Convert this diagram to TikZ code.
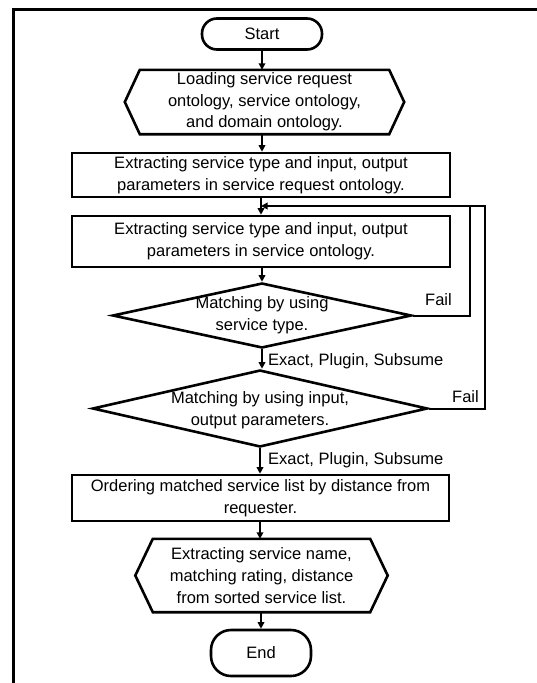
\documentclass[tikz,border=0pt]{standalone}
\usepackage{fontspec}
\setmainfont{Liberation Sans}
\usetikzlibrary{arrows.meta,shapes.geometric}
\begin{document}
\begin{tikzpicture}[x=1pt,y=-1pt,
  txt/.style={font=\fontsize{16.5pt}{21.7pt}\selectfont, inner sep=0pt, align=center},
  shp/.style={draw, line width=2.6pt, line join=miter},
  procbox/.style={shp, txt, rectangle, minimum width=378pt},
  term/.style={shp, txt, rectangle},
  ioframe/.style={txt, rectangle},
  dia/.style={shp, diamond, inner sep=0pt},
  flow/.style={line width=1.8pt, -{Triangle[length=6.5pt,width=6.5pt]}},
  loopline/.style={line width=2pt, line join=miter},
  lbl/.style={font=\fontsize{16.5pt}{21.7pt}\selectfont, inner sep=0pt, anchor=base west}]

\useasboundingbox (0,0) rectangle (537,683);
\draw[line width=3pt, line join=miter] (13,683) -- (13,9.5) -- (537,9.5);

% nodes
\node[term, minimum width=120pt, minimum height=31pt, rounded corners=15pt] (start) at (262,34) {Start};

\node[ioframe, minimum width=249pt, minimum height=64pt] (h1) at (264.5,102)
  {Loading service request\\ontology, service ontology,\\and domain ontology.};
\draw[shp] (h1.north west) -- (h1.north east) -- ([xshift=15pt]h1.east)
  -- (h1.south east) -- (h1.south west) -- ([xshift=-15pt]h1.west) -- cycle;

\node[procbox, minimum height=44pt] (b2) at (261,175)
  {Extracting service type and input, output\\parameters in service request ontology.};
\node[procbox, minimum height=51pt] (b3) at (261,241.5)
  {Extracting service type and input, output\\parameters in service ontology.};

\node[dia, minimum width=299pt, minimum height=65pt] (d1) at (262,315.5) {};
\node[txt] (d1t) at (d1.center) {Matching by using\\service type.};

\node[dia, minimum width=335pt, minimum height=77pt] (d2) at (260,408.5) {};
\node[txt] (d2t) at ([yshift=-2pt]d2.center) {Matching by using input,\\output parameters.};

\node[procbox, minimum width=377pt, minimum height=46pt] (b4) at (260.5,498)
  {Ordering matched service list by distance from\\requester.};

\node[ioframe, minimum width=217pt, minimum height=73pt] (h2) at (261.5,575.5)
  {Extracting service name,\\matching rating, distance\\from sorted service list.};
\draw[shp] (h2.north west) -- (h2.north east) -- ([xshift=17.5pt]h2.east)
  -- (h2.south east) -- (h2.south west) -- ([xshift=-17.5pt]h2.west) -- cycle;

\node[term, minimum width=100pt, minimum height=46pt, rounded corners=20pt] (end) at (261,653) {End};

% connectors
\draw[flow] (start.south) -- (start.south |- h1.north);
\draw[flow] (start.south |- h1.south) -- (start.south |- b2.north);
\draw[flow] (b2.south) -- (b2.south |- b3.north);
\draw[flow] (b3.south -| d1.north) -- (d1.north);
\draw[flow] (d1.south) -- (d1.south |- d2.north);
\draw[flow] (d2.south) -- (d2.south |- b4.north);
\draw[flow] (b4.south -| d2.south) -- (d2.south |- h2.north);
\draw[flow] (h2.south -| end.north) -- (end.north);

% feedback loops
\coordinate (jn) at (261,206);
\coordinate (c1) at (470,206);
\coordinate (c2) at (485,206);
\draw[loopline] (d1.east) -| (c1);
\draw[loopline, -{Triangle[length=6.5pt,width=6.5pt]}] (d2.east) -| (c2) -- (jn);

% labels
\node[lbl] (f1) at (425,305.8) {Fail};
\node[lbl] (f2) at (452,402.8) {Fail};
\node[lbl] (e1) at (268,365.3) {Exact, Plugin, Subsume};
\node[lbl] (e2) at (268,464.8) {Exact, Plugin, Subsume};
\end{tikzpicture}
\end{document}
